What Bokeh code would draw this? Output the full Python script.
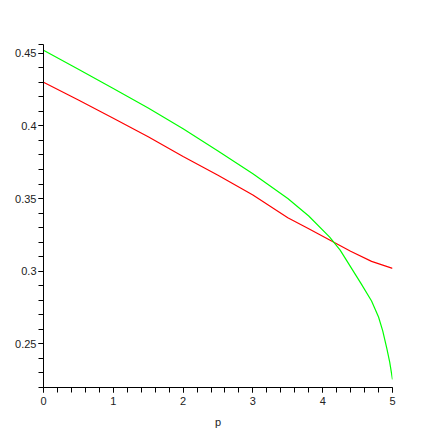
from bokeh.plotting import figure
from bokeh.models import FixedTicker, CustomJSTickFormatter, Range1d
from bokeh.embed import file_html
from bokeh.resources import INLINE

# Data
p_red = [0, 0.5, 1, 1.5, 2, 2.5, 3, 3.5, 3.8, 4.1, 4.4, 4.7, 5]
red = [0.4300, 0.4178, 0.4053, 0.3925, 0.3790, 0.3660, 0.3525, 0.3368,
       0.3292, 0.3215, 0.3138, 0.3068, 0.3020]

p_green = [0, 0.5, 1, 1.5, 2, 2.5, 3, 3.5, 3.8, 4.1, 4.25, 4.4, 4.55, 4.7,
           4.8, 4.86, 4.92, 4.96, 5]
green = [0.452, 0.439, 0.4257, 0.4123, 0.3980, 0.3828, 0.3670, 0.3500,
         0.3380, 0.3235, 0.3145, 0.3030, 0.2915, 0.2795, 0.2685, 0.259,
         0.2465, 0.2375, 0.2255]

x_major = [0, 1, 2, 3, 4, 5]
x_minor = [i * 0.2 for i in range(26)]
y_major = [0.25, 0.3, 0.35, 0.4, 0.45]
y_minor = [round(0.22 + i * 0.01, 2) for i in range(24)] + [0.456]

FONT = "Liberation Sans"

p = figure(width=430, height=430, output_backend="svg", toolbar_location=None,
           x_range=Range1d(0, 5), y_range=Range1d(0.22, 0.456),
           min_border_left=43, min_border_right=38, min_border_top=44,
           min_border_bottom=38)
p.outline_line_color = None
p.xgrid.visible = False
p.ygrid.visible = False

p.line(p_red, red, line_color="#ff0000", line_width=1.2)
p.line(p_green, green, line_color="#00ff00", line_width=1.2)

fmt = CustomJSTickFormatter(code="return String(parseFloat(tick.toFixed(3)));")

for ax, major, minor in ((p.xaxis[0], x_major, x_minor), (p.yaxis[0], y_major, y_minor)):
    ax.ticker = FixedTicker(ticks=major, minor_ticks=minor)
    ax.formatter = fmt
    ax.major_tick_in = 0
    ax.major_tick_out = 5
    ax.minor_tick_in = 0
    ax.minor_tick_out = 5
    ax.axis_line_color = "black"
    ax.major_tick_line_color = "black"
    ax.minor_tick_line_color = "black"
    ax.major_label_text_font = FONT
    ax.major_label_text_font_size = "11px"
    ax.major_label_text_color = "#222222"

p.yaxis[0].major_label_standoff = 2
p.xaxis[0].major_label_standoff = 4
p.xaxis[0].axis_label = "p"
p.xaxis[0].axis_label_text_font = FONT
p.xaxis[0].axis_label_text_font_size = "11px"
p.xaxis[0].axis_label_text_font_style = "normal"
p.xaxis[0].axis_label_text_color = "#222222"
p.xaxis[0].axis_label_standoff = 8

open("out.html", "w").write(file_html(p, INLINE))
